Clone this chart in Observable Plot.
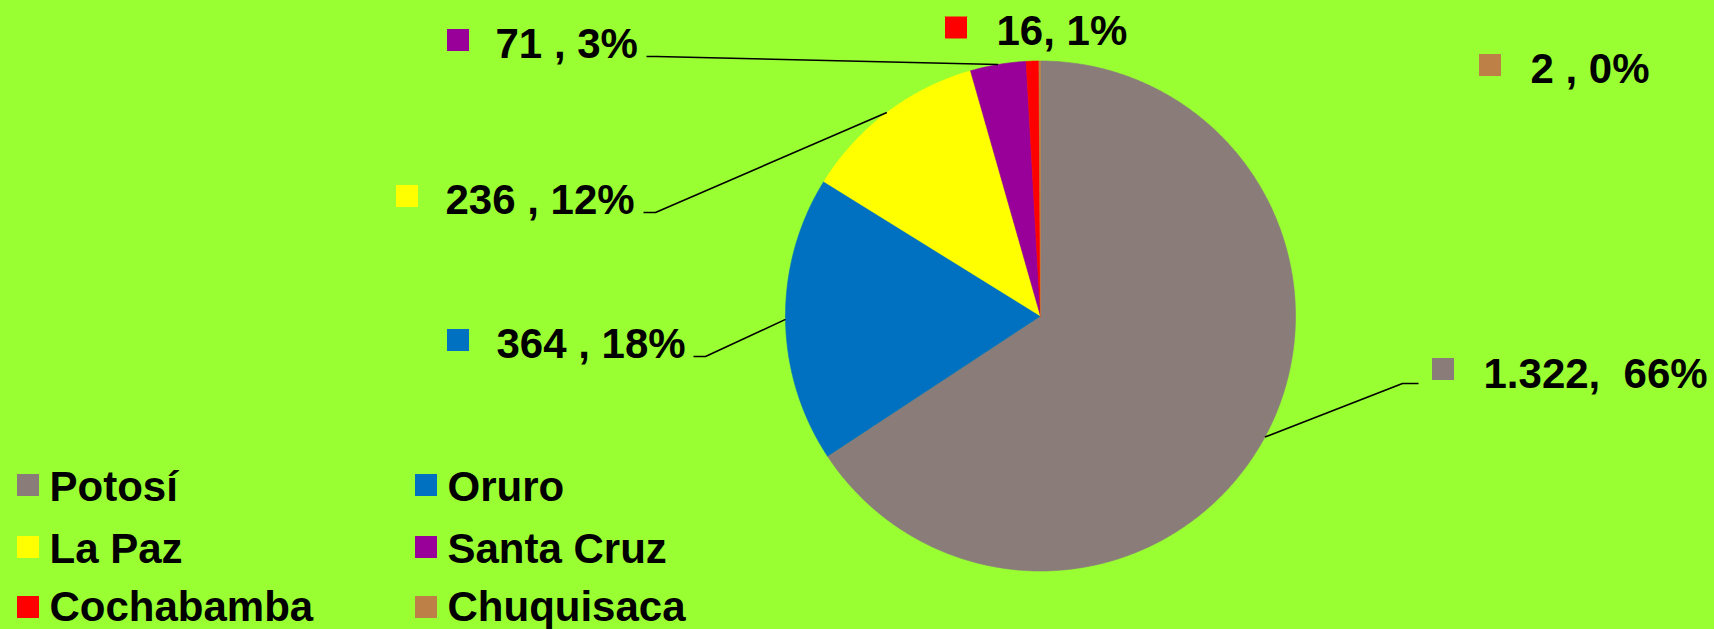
<!DOCTYPE html>
<html>
<head>
<meta charset="utf-8">
<script src="https://cdn.jsdelivr.net/npm/d3@7"></script>
<script src="https://cdn.jsdelivr.net/npm/@observablehq/plot@0.6"></script>
<style>
  html, body { margin: 0; padding: 0; background: #99FF33; overflow: hidden; }
  #chart svg { display: block; }
</style>
</head>
<body>
<div id="chart"></div>
<script>
// ---------- data ----------
const departments = ["Potosí", "Oruro", "La Paz", "Santa Cruz", "Cochabamba", "Chuquisaca"];
const values = [1322, 364, 236, 71, 16, 2];
const valueLabels = ["1.322,  66%", "364 , 18%", "236 , 12%", "71 , 3%", "16, 1%", "2 , 0%"];
const colors = ["#8A7D79", "#0070C0", "#FFFF00", "#990099", "#FF0000", "#BD8046"];

// ---------- layout (pixel space) ----------
const W = 1714, H = 629;
const pieCx = 1040, pieCy = 315.5, pieR = 255;
const sq = 22;
const labelSquareX = [1443, 458, 407, 458, 956, 1490];
const labelSquareY = [369, 340, 196, 40, 27.5, 65];
const labelTextX = [1483, 496, 445, 495, 996, 1530];
const labelBaseY = [387, 357, 213, 57, 44, 82];
const leaderEndX = [1418, 693, 643, 646, null, null];
const leaderElbowX = [1402, 705, 655, 656, null, null];
const leaderY = [383, 356, 212, 56, null, null];
const legendCol = [0, 1, 0, 1, 0, 1];
const legendRow = [0, 0, 1, 1, 2, 2];
const legendSquareX = [28, 426];
const legendTextX = [49, 447];
const legendSquareY = [485, 547, 607];
const legendBaseY = [500, 562, 620];

const fontFamily = "'Liberation Sans', Arial, Helvetica, sans-serif";
const fontSize = 42;

// ---------- derived geometry ----------
const total = d3.sum(values);
const slicePts = [];
const midAngles = [];
let acc = 0;
departments.forEach((name, i) => {
  const a0 = (acc / total) * 2 * Math.PI;
  acc += values[i];
  const a1 = (acc / total) * 2 * Math.PI;
  midAngles.push((a0 + a1) / 2);
  const n = Math.max(2, Math.ceil((a1 - a0) / (Math.PI / 360)));
  slicePts.push({name, x: pieCx, y: pieCy});
  for (let k = 0; k <= n; k++) {
    const a = a0 + (a1 - a0) * k / n;
    slicePts.push({name, x: pieCx + pieR * Math.sin(a), y: pieCy - pieR * Math.cos(a)});
  }
  slicePts.push({name, x: pieCx, y: pieCy});
});

const leaderPts = [];
departments.forEach((name, i) => {
  if (leaderY[i] == null) return;
  const a = midAngles[i];
  leaderPts.push({name, x: pieCx + pieR * Math.sin(a), y: pieCy - pieR * Math.cos(a)});
  leaderPts.push({name, x: leaderElbowX[i], y: leaderY[i]});
  leaderPts.push({name, x: leaderEndX[i], y: leaderY[i]});
});

const labelRows = departments.map((name, i) => ({
  name,
  text: valueLabels[i],
  sx: labelSquareX[i], sy: labelSquareY[i],
  tx: labelTextX[i], ty: labelBaseY[i]
}));

const legendRows = departments.map((name, i) => ({
  name,
  sx: legendSquareX[legendCol[i]], sy: legendSquareY[legendRow[i]],
  tx: legendTextX[legendCol[i]], ty: legendBaseY[legendRow[i]]
}));

const chart = Plot.plot({
  width: W,
  height: H,
  margin: 0,
  style: {background: "#99FF33", overflow: "visible"},
  x: {type: "linear", domain: [0, W], range: [0, W], axis: null},
  y: {type: "linear", domain: [0, H], range: [0, H], axis: null},
  color: {type: "ordinal", domain: departments, range: colors},
  marks: [
    Plot.line(slicePts, {x: "x", y: "y", z: "name", fill: "name", stroke: "name", strokeWidth: 0.6, curve: "linear"}),
    Plot.line(leaderPts, {x: "x", y: "y", z: "name", stroke: "black", strokeWidth: 1.6, curve: "linear", strokeLinecap: "butt", strokeLinejoin: "miter"}),
    Plot.rect(labelRows, {x1: d => d.sx - sq / 2, x2: d => d.sx + sq / 2, y1: d => d.sy - sq / 2, y2: d => d.sy + sq / 2, fill: "name"}),
    Plot.text(labelRows, {x: "tx", y: "ty", text: "text", textAnchor: "start", lineAnchor: "bottom", fontSize, fontWeight: "bold", fontFamily, fill: "black"}),
    Plot.rect(legendRows, {x1: d => d.sx - sq / 2, x2: d => d.sx + sq / 2, y1: d => d.sy - sq / 2, y2: d => d.sy + sq / 2, fill: "name"}),
    Plot.text(legendRows, {x: "tx", y: "ty", text: "name", textAnchor: "start", lineAnchor: "bottom", fontSize, fontWeight: "bold", fontFamily, fill: "black"})
  ]
});
document.getElementById("chart").appendChild(chart);
</script>
</body>
</html>
